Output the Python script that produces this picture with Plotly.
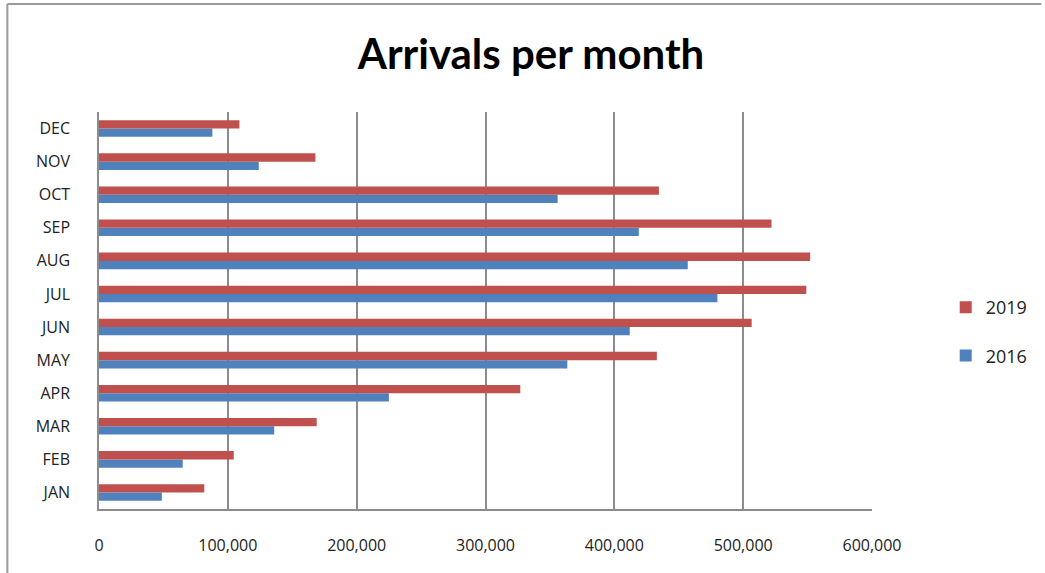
import plotly.graph_objects as go

months = ["JAN", "FEB", "MAR", "APR", "MAY", "JUN", "JUL", "AUG", "SEP", "OCT", "NOV", "DEC"]
arrivals_2016 = [48800, 65000, 136000, 225000, 363500, 412000, 480000, 457000, 419000, 356000, 124000, 88000]
arrivals_2019 = [81700, 104600, 169000, 327000, 433000, 506600, 549000, 552000, 522000, 434600, 168000, 109000]
x_ticks = [0, 100000, 200000, 300000, 400000, 500000, 600000]
x_tick_labels = ["0", "100,000", "200,000", "300,000", "400,000", "500,000", "600,000"]

fig = go.Figure()
fig.add_trace(go.Bar(y=months, x=arrivals_2016, orientation="h", name="2016",
                     marker=dict(color="#4F81BD", line=dict(width=0)),
                     legendgroup="a", legendrank=2))
fig.add_trace(go.Bar(y=months, x=arrivals_2019, orientation="h", name="2019",
                     marker=dict(color="#C0504D", line=dict(width=0)),
                     legendgroup="b", legendrank=1))

W, H = 1045, 573
L, R, T, B = 99, 170, 112, 64
pw, ph = W - L - R, H - T - B

def px_x(x):
    return (x - L) / pw

def px_y(y):
    return (H - B - y) / ph

fig.update_layout(
    width=W, height=H,
    margin=dict(l=L, r=R, t=T, b=B),
    paper_bgcolor="white", plot_bgcolor="white",
    barmode="group", bargap=0.5, bargroupgap=0,
    title=dict(text="<b>Arrivals per month</b>", x=531 / W, xanchor="center",
               y=1 - 54 / H, yanchor="middle",
               font=dict(family="Lato", size=42, color="black")),
    font=dict(family="Open Sans", color="#222222"),
    showlegend=True,
    legend=dict(x=px_x(949), y=px_y(289), xanchor="left", yanchor="top",
                tracegroupgap=22, font=dict(size=18, color="#222222"),
                itemwidth=30, bgcolor="rgba(0,0,0,0)"),
    xaxis=dict(range=[0, 600000], tickvals=x_ticks, ticktext=x_tick_labels,
               showgrid=True, gridcolor="#8C8C8C", gridwidth=1.5,
               showline=True, linecolor="#8C8C8C", linewidth=1.5,
               zeroline=False, ticks="", ticklabelstandoff=21,
               tickfont=dict(family="Open Sans", size=16, color="#222222"),
               fixedrange=True),
    yaxis=dict(categoryorder="array", categoryarray=months,
               showgrid=False, showline=True, linecolor="#8C8C8C", linewidth=1.5,
               ticks="", ticklabelstandoff=24,
               tickfont=dict(family="Open Sans", size=16, color="#222222"),
               fixedrange=True),
    shapes=[
        dict(type="line", xref="paper", yref="paper", x0=px_x(7), x1=px_x(W), y0=px_y(4), y1=px_y(4),
             line=dict(color="#9A9A9A", width=2)),
        dict(type="line", xref="paper", yref="paper", x0=px_x(7), x1=px_x(7), y0=px_y(4), y1=px_y(H),
             line=dict(color="#9A9A9A", width=2)),
    ],
)

fig.write_html("out.html")
